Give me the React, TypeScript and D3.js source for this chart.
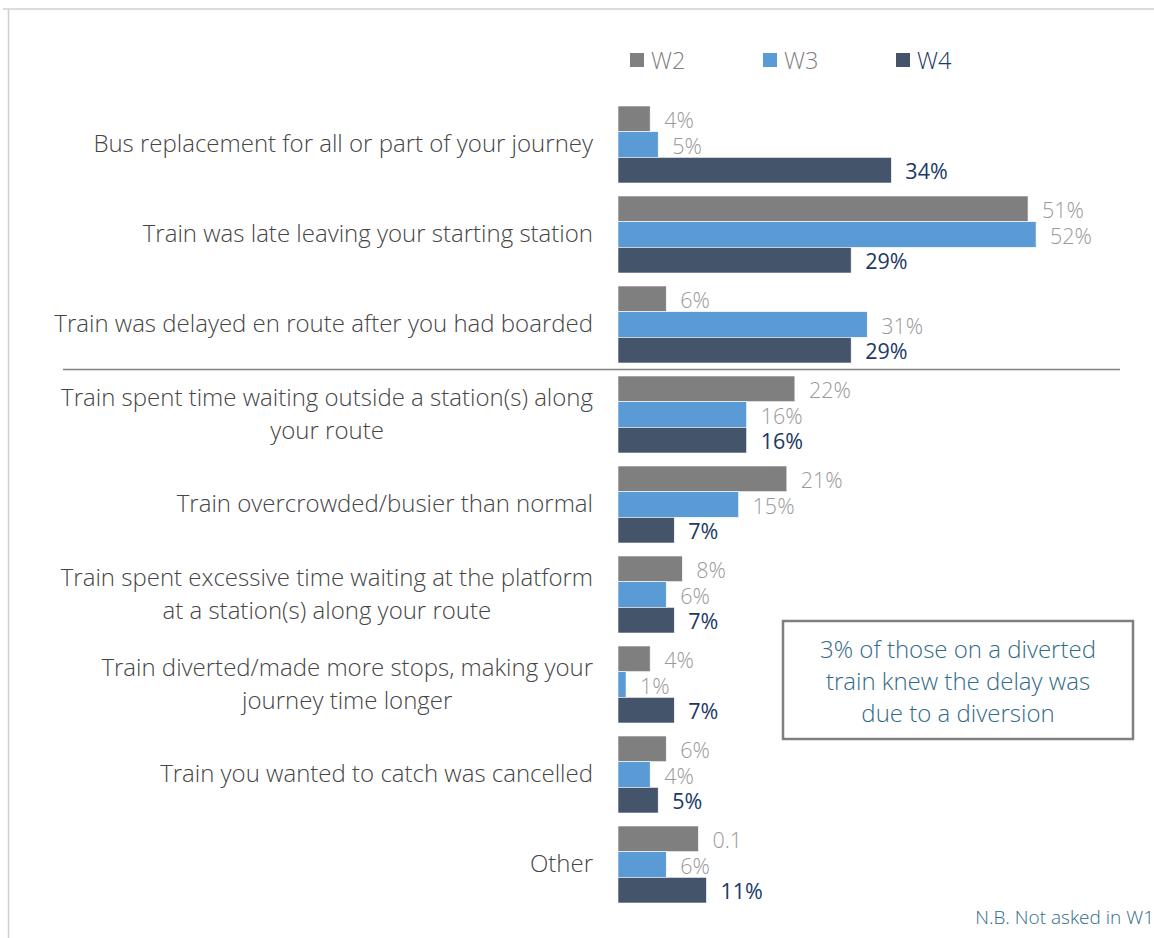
import React, { useLayoutEffect, useRef } from "react";
import * as d3 from "d3";

const categories: string[][] = [
  ["Bus replacement for all or part of your journey"],
  ["Train was late leaving your starting station"],
  ["Train was delayed en route after you had boarded"],
  ["Train spent time waiting outside a station(s) along", "your route"],
  ["Train overcrowded/busier than normal"],
  ["Train spent excessive time waiting at the platform", "at a station(s) along your route"],
  ["Train diverted/made more stops, making your", "journey time longer"],
  ["Train you wanted to catch was cancelled"],
  ["Other"],
];
const seriesNames = ["W2", "W3", "W4"];
const w2 = [4, 51, 6, 22, 21, 8, 4, 6, 10];
const w3 = [5, 52, 31, 16, 15, 6, 1, 4, 6];
const w4 = [34, 29, 29, 16, 7, 7, 7, 5, 11];
const w2Labels = ["4%", "51%", "6%", "22%", "21%", "8%", "4%", "6%", "0.1"];
const noteLines = ["3% of those on a diverted", "train knew the delay was", "due to a diversion"];
const footnote = "N.B. Not asked in W1";

const colors = ["#7f7f7f", "#5b9bd5", "#44546a"];
const labelColors = ["#999999", "#999999", "#203864"];
const legendTextColors = ["#7f7f7f", "#7f7f7f", "#203864"];
const FONT = "'Open Sans', Lato, sans-serif";

export default function App() {
  const W = 1154, H = 938;
  const svgRef = useRef<SVGSVGElement>(null);
  const values = [w2, w3, w4];
  const labels = [w2Labels, w3.map((v) => v + "%"), w4.map((v) => v + "%")];
  const idx = categories.map((_, i) => i);
  const y = d3.scaleBand<number>().domain(idx).range([106, 903]).paddingInner(13 / 90).paddingOuter(0);
  const ys = d3.scaleBand<number>().domain([0, 1, 2]).range([0, y.bandwidth()]);
  const x = d3.scaleLinear().domain([0, 100]).range([618, 618 + 804]);
  const sepY = ((y(2)! + y.bandwidth()) + y(3)!) / 2;
  const lineH = 33;
  const labelRight = 593;

  useLayoutEffect(() => {
    if (!svgRef.current) return;
    d3.select(svgRef.current).selectAll<SVGTextElement, unknown>("text.cat").each(function () {
      const spans = Array.from(this.querySelectorAll("tspan")) as SVGTSpanElement[];
      const maxW = d3.max(spans, (s) => s.getComputedTextLength()) || 0;
      const cx = labelRight - maxW / 2;
      this.setAttribute("text-anchor", "middle");
      spans.forEach((s) => s.setAttribute("x", String(cx)));
    });
  }, []);

  return (
    <svg ref={svgRef} width={W} height={H} style={{ position: "absolute", left: 0, top: 0, background: "#fff" }} fontFamily={FONT} fontWeight={300}>
      <rect x={0} y={0} width={W} height={H} fill="#fff" />
      <line x1={3} x2={W} y1={9} y2={9} stroke="#d0d0d0" strokeWidth={1.5} />
      <line x1={8.5} x2={8.5} y1={9} y2={H} stroke="#d0d0d0" strokeWidth={1.5} />

      {seriesNames.map((s, i) => {
        const lx = [630, 763, 896][i];
        return (
          <g key={s}>
            <rect x={lx} y={53} width={14} height={14} fill={colors[i]} />
            <text x={lx + 21} y={59.5} dominantBaseline="central" fontSize={23.5} fill={legendTextColors[i]}>{s}</text>
          </g>
        );
      })}

      {idx.map((ci) => (
        <g key={ci}>
          {values.map((vals, si) => {
            const by = y(ci)! + ys(si)!;
            return (
              <g key={si}>
                <rect x={x(0)} y={by} width={x(vals[ci]) - x(0)} height={ys.bandwidth()} fill={colors[si]} stroke="#ffffff" strokeWidth={0.6} />
                <text x={x(vals[ci]) + 14} y={by + ys.bandwidth() / 2 + 0.5} dominantBaseline="central" fontSize={21.5}
                  fill={labelColors[si]} fontWeight={si === 2 ? 400 : 300}>{labels[si][ci]}</text>
              </g>
            );
          })}
          {(() => {
            const lines = categories[ci];
            const cy = y(ci)! + y.bandwidth() / 2 - 2;
            return (
              <text className="cat" textAnchor="end" fontSize={24} fill="#454545">
                {lines.map((ln, li) => (
                  <tspan key={li} x={labelRight} y={cy + (li - (lines.length - 1) / 2) * lineH} dominantBaseline="central">{ln}</tspan>
                ))}
              </text>
            );
          })()}
        </g>
      ))}

      <line x1={63} x2={1120} y1={sepY} y2={sepY} stroke="#808080" strokeWidth={1.5} />

      <rect x={783} y={621} width={350} height={118} fill="#fff" stroke="#808080" strokeWidth={2.5} />
      {noteLines.map((ln, i) => (
        <text key={i} x={958} y={648 + i * 32} textAnchor="middle" dominantBaseline="central" fontSize={24} fill="#336b87">{ln}</text>
      ))}
      <text x={1154} y={917} textAnchor="end" dominantBaseline="central" fontSize={19} fill="#336b87">{footnote}</text>
    </svg>
  );
}
